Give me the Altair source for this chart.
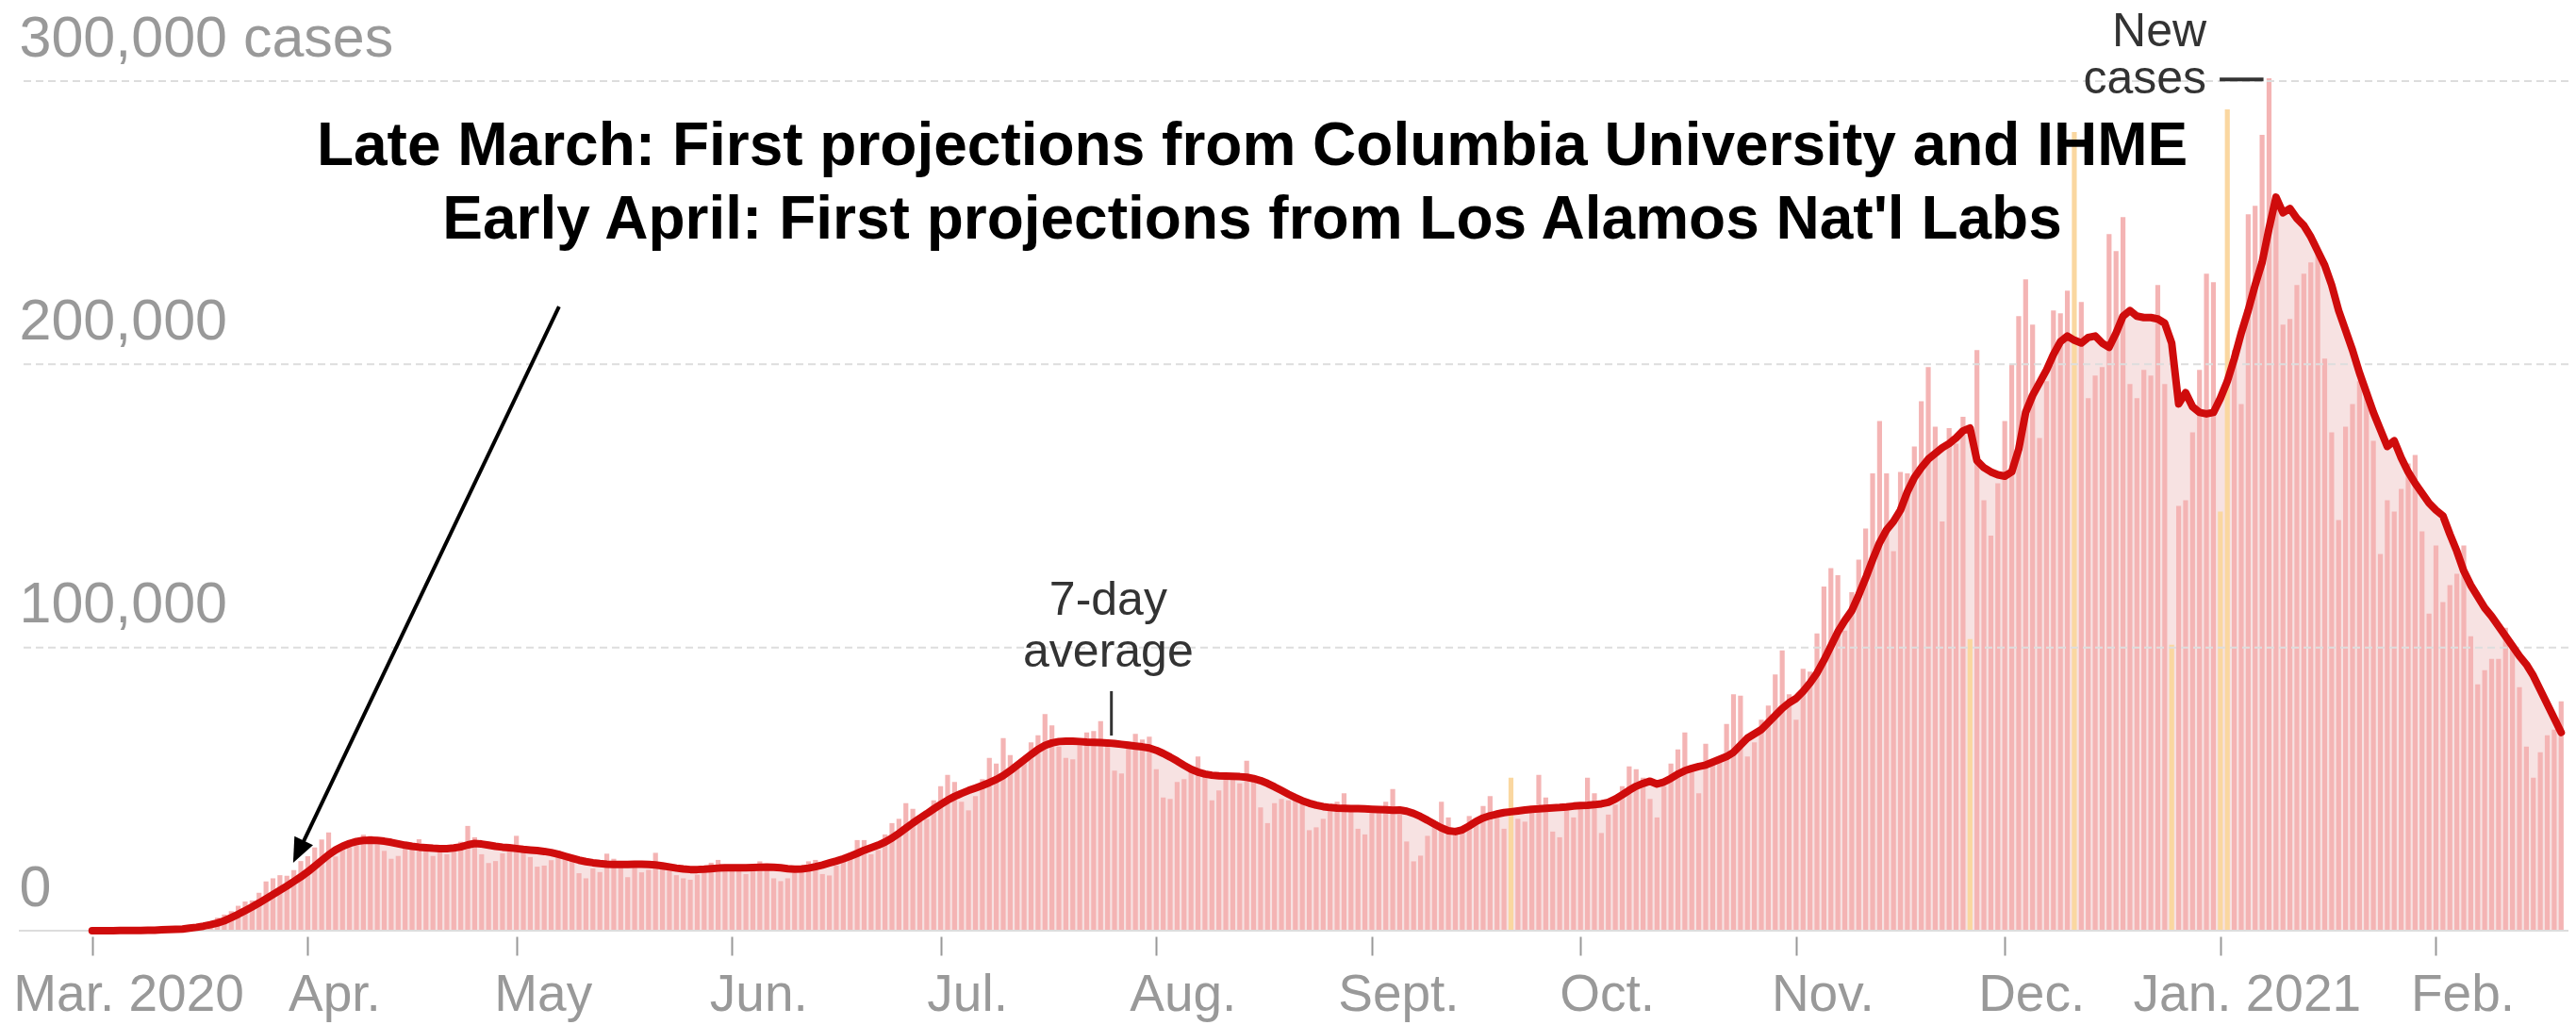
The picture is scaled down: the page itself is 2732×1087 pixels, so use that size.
import altair as alt
import pandas as pd

# ---------------- data (thousands of cases) ----------------
start = pd.Timestamp("2020-03-01")

mar_cases = [0.0, 0.0, 0.0, 0.0, 0.1, 0.1, 0.1, 0.1, 0.2, 0.3,
             0.4, 0.5, 0.7, 0.8, 1.0, 1.6, 1.9, 2.9, 4.6, 5.7,
             6.9, 8.8, 10.3, 10.7, 13.4, 17.4, 18.5, 19.6, 19.4, 21.4, 24.6]
apr_cases = [26.3, 29.4, 32.2, 34.7, 26.2, 29.6, 31.1, 32.0, 33.9, 33.5,
             30.8, 28.2, 25.4, 26.4, 29.5, 30.0, 32.3, 28.9, 26.4, 28.1,
             27.0, 29.0, 31.4, 37.0, 33.0, 27.0, 23.9, 24.6, 27.3, 29.6]
may_cases = [33.5, 28.5, 26.0, 22.6, 23.0, 24.9, 28.3, 26.8, 26.0, 20.3,
             18.5, 22.0, 20.7, 27.2, 25.4, 24.4, 18.9, 22.8, 20.6, 21.5,
             27.5, 23.4, 22.6, 19.6, 18.5, 18.0, 19.8, 22.0, 24.0, 25.0, 21.0]
jun_cases = [21.0, 21.5, 20.0, 21.5, 24.5, 22.5, 18.5, 17.5, 18.5, 20.5,
             22.0, 24.5, 25.0, 20.0, 19.5, 23.0, 25.5, 27.5, 32.0, 32.0,
             27.0, 28.5, 34.0, 38.0, 39.5, 45.0, 43.0, 40.0, 39.5, 46.0]
jul_cases = [51.0, 55.0, 52.5, 45.5, 42.5, 47.5, 53.5, 61.0, 59.0, 68.0,
             62.0, 59.0, 59.5, 66.5, 69.0, 76.5, 72.5, 65.0, 61.0, 60.5,
             66.5, 70.0, 70.5, 74.0, 66.0, 56.5, 55.5, 65.0, 69.5, 67.5, 68.5]
aug_cases = [57.0, 47.0, 46.5, 52.5, 53.5, 57.0, 61.5, 55.0, 46.0, 49.5,
             53.5, 55.0, 52.0, 60.0, 54.0, 43.5, 38.0, 45.0, 46.5, 46.0,
             48.0, 45.5, 35.5, 36.5, 39.5, 44.5, 45.5, 48.5, 43.0, 36.0, 34.0]
sep_cases = [41.5, 43.0, 45.5, 50.0, 41.0, 31.5, 24.5, 26.5, 33.5, 36.5,
             45.5, 40.0, 35.0, 35.0, 40.5, 39.0, 44.0, 47.5, 42.5, 36.0,
             54.0, 39.5, 38.5, 44.0, 55.0, 47.0, 35.0, 33.0, 42.5, 40.0]
oct_cases = [44.5, 54.0, 48.5, 34.5, 41.0, 44.5, 51.0, 58.0, 57.0, 54.0,
             46.5, 40.0, 51.0, 59.0, 64.0, 70.0, 56.5, 48.5, 66.0, 60.5,
             61.5, 73.0, 83.5, 83.0, 61.5, 66.5, 74.5, 79.5, 90.5, 99.0, 83.5]
nov_cases = [74.5, 92.5, 91.5, 105.0, 121.5, 128.0, 125.5, 106.0, 119.5, 131.0,
             142.0, 161.5, 180.0, 161.5, 134.0, 162.0, 161.5, 171.0, 187.0, 199.0,
             178.0, 144.5, 177.5, 172.0, 181.5, 103.0, 205.0, 152.0, 139.5, 158.0]
dec_cases = [180.0, 200.0, 217.0, 230.0, 214.0, 174.0, 194.0, 219.0, 218.0, 226.0,
             282.0, 222.0, 188.0, 196.0, 199.0, 246.0, 240.0, 252.0, 193.0, 188.0,
             198.0, 196.0, 228.0, 193.0, 101.0, 150.0, 152.0, 176.0, 198.0, 232.0, 229.0]
jan_cases = [148.0, 290.0, 205.0, 186.0, 253.0, 256.0, 281.0, 301.0, 258.0, 214.0,
             216.0, 228.0, 232.0, 236.0, 240.0, 202.0, 176.0, 145.0, 178.0, 186.0,
             194.0, 191.0, 173.0, 133.0, 152.0, 148.0, 156.0, 165.0, 168.0, 141.0, 112.0]
feb_cases = [136.0, 116.0, 122.0, 126.0, 136.0, 104.0, 87.0, 92.0, 96.0, 96.0,
             107.0, 100.0, 86.0, 65.0, 54.0, 63.0, 69.0, 71.0, 81.0]

mar_avg = [0.0, 0.0, 0.0, 0.0, 0.1, 0.1, 0.1, 0.1, 0.2, 0.2,
           0.3, 0.4, 0.5, 0.6, 0.9, 1.2, 1.6, 2.1, 2.7, 3.5,
           4.6, 5.8, 7.1, 8.4, 9.8, 11.3, 12.8, 14.3, 15.8, 17.4, 19.0]
apr_avg = [20.8, 22.8, 24.8, 26.8, 28.5, 29.8, 30.8, 31.5, 31.9, 32.0,
           31.9, 31.6, 31.2, 30.7, 30.2, 29.8, 29.5, 29.3, 29.1, 29.0,
           29.0, 29.2, 29.6, 30.3, 30.8, 30.6, 30.2, 29.8, 29.5, 29.3]
may_avg = [29.0, 28.7, 28.5, 28.3, 28.0, 27.6, 27.0, 26.3, 25.6, 24.9,
           24.4, 24.0, 23.7, 23.5, 23.4, 23.4, 23.4, 23.5, 23.5, 23.4,
           23.2, 22.9, 22.5, 22.1, 21.8, 21.6, 21.6, 21.7, 21.9, 22.1, 22.2]
jun_avg = [22.2, 22.2, 22.2, 22.3, 22.4, 22.5, 22.4, 22.2, 21.9, 21.7,
           21.8, 22.1, 22.6, 23.2, 23.9, 24.6, 25.4, 26.3, 27.3, 28.4,
           29.3, 30.2, 31.3, 32.7, 34.4, 36.2, 38.0, 39.7, 41.3, 43.0]
jul_avg = [44.6, 46.1, 47.4, 48.5, 49.5, 50.4, 51.3, 52.3, 53.4, 54.8,
           56.5, 58.4, 60.3, 62.2, 64.0, 65.4, 66.3, 66.8, 66.9, 66.9,
           66.8, 66.6, 66.5, 66.4, 66.3, 66.1, 65.8, 65.5, 65.2, 64.9, 64.5]
aug_avg = [63.7, 62.6, 61.3, 59.9, 58.4, 57.0, 56.0, 55.3, 54.9, 54.7,
           54.6, 54.5, 54.4, 54.2, 53.7, 53.0, 52.0, 50.8, 49.5, 48.2,
           47.0, 45.9, 45.0, 44.3, 43.8, 43.5, 43.3, 43.2, 43.1, 43.1, 43.0]
sep_avg = [42.9, 42.8, 42.7, 42.5, 42.6, 42.2, 41.4, 40.3, 39.0, 37.6,
           36.3, 35.3, 35.0, 35.6, 37.0, 38.6, 39.8, 40.6, 41.2, 41.7,
           42.0, 42.3, 42.6, 42.9, 43.0, 43.2, 43.4, 43.5, 43.7, 44.0]
oct_avg = [44.2, 44.3, 44.5, 44.8, 45.3, 46.5, 48.0, 49.6, 51.0, 52.0,
           52.8, 51.8, 52.5, 53.8, 55.3, 56.5, 57.3, 58.0, 58.5, 59.5,
           60.5, 61.5, 63.0, 65.5, 68.0, 69.5, 71.0, 73.5, 76.0, 78.5, 80.5]
nov_avg = [82.0, 84.5, 87.5, 91.0, 95.5, 100.5, 105.5, 109.5, 113.0, 118.5,
           124.5, 131.0, 137.0, 141.5, 144.5, 148.5, 155.0, 160.0, 163.5, 166.5,
           168.5, 170.5, 172.0, 174.0, 176.5, 177.5, 166.0, 163.5, 162.0, 161.0]
dec_avg = [160.5, 162.0, 170.0, 183.0, 189.0, 193.5, 198.0, 203.5, 208.0, 210.0,
           208.5, 207.5, 209.5, 210.0, 207.5, 206.0, 211.0, 217.0, 219.0, 217.0,
           216.5, 216.5, 216.0, 214.5, 207.5, 186.0, 190.0, 185.0, 183.0, 182.5, 183.0]
jan_avg = [188.0, 194.0, 202.0, 211.0, 219.0, 228.0, 236.0, 248.0, 259.0, 253.5,
           255.0, 251.5, 249.0, 245.0, 240.0, 235.0, 228.0, 219.0, 212.0, 205.0,
           197.0, 190.0, 183.0, 177.0, 171.0, 173.0, 167.0, 162.0, 158.0, 154.5, 151.0]
feb_avg = [148.5, 146.5, 140.0, 134.0, 127.0, 122.0, 118.0, 114.0, 111.0, 107.5,
           104.0, 100.5, 97.0, 94.0, 90.0, 85.0, 80.0, 75.0, 70.0]

# days flagged (data dumps) drawn in yellow
flag_dates = ["2020-09-21", "2020-11-26", "2020-12-11", "2020-12-25",
              "2021-01-01", "2021-01-02"]

# axis ticks / labels
month_starts = ["2020-03-01", "2020-04-01", "2020-05-01", "2020-06-01",
                "2020-07-01", "2020-08-01", "2020-09-01", "2020-10-01",
                "2020-11-01", "2020-12-01", "2021-01-01", "2021-02-01"]
month_labels = ["Mar. 2020", "Apr.", "May", "Jun.", "Jul.", "Aug.", "Sept.",
                "Oct.", "Nov.", "Dec.", "Jan. 2021", "Feb."]
y_ticks = [0, 100000, 200000, 300000]
y_labels = ["0", "100,000", "200,000", "300,000 cases"]

# annotations (in data units: day index since Mar 1 2020, cases)
title_lines = ["Late March: First projections from Columbia University and IHME",
               "Early April: First projections from Los Alamos Nat'l Labs"]
title_day = [166.8, 166.8]
title_val = [270400, 244400]

avg_label = ["7-day", "average"]
avg_label_day = [146.1, 146.1]
avg_label_val = [111500, 93200]
avg_pointer = {"day": [146.55], "v1": [84600], "v2": [68900]}

new_label = ["New", "cases"]
new_label_day = [304.0, 304.0]
new_label_val = [312300, 295700]
new_pointer = {"d1": [305.9], "d2": [312.2], "v": [300600]}

arrow_tail = (67.13, 220400)
arrow_tip = (28.9, 24000)
arrow_shaft_end = (30.2, 30500)

# ---------------- build tables ----------------
cases_k = (mar_cases + apr_cases + may_cases + jun_cases + jul_cases + aug_cases +
           sep_cases + oct_cases + nov_cases + dec_cases + jan_cases + feb_cases)
avg_k = (mar_avg + apr_avg + may_avg + jun_avg + jul_avg + aug_avg +
         sep_avg + oct_avg + nov_avg + dec_avg + jan_avg + feb_avg)
assert len(cases_k) == len(avg_k) == 356, (len(cases_k), len(avg_k))

flag_idx = {(pd.Timestamp(d) - start).days for d in flag_dates}
df = pd.DataFrame({
    "day": list(range(len(cases_k))),
    "cases": [v * 1000 for v in cases_k],
    "avg": [v * 1000 for v in avg_k],
    "kind": ["flag" if i in flag_idx else "normal" for i in range(len(cases_k))],
})

tick_days = [(pd.Timestamp(d) - start).days for d in month_starts]


def label_expr(values, labels):
    expr = "''"
    for v, lab in reversed(list(zip(values, labels))):
        expr = f"datum.value == {v} ? '{lab}' : ({expr})"
    return expr


FONT = "Liberation Sans"
GREY = "#999999"

xscale = alt.Scale(domain=[-9.86, 355.37], nice=False, zero=False)
yscale = alt.Scale(domain=[0, 300000], nice=False, zero=True)

x_axis = alt.Axis(values=tick_days, labelExpr=label_expr(tick_days, month_labels),
                  title=None, domain=False,
                  ticks=True, tickSize=20, tickWidth=2, tickColor=GREY, offset=6,
                  labelPadding=58, labelBaseline="alphabetic",
                  labelOffset=28, labelFlush=80, labelFlushOffset=112,
                  labelFontSize=55, labelColor=GREY, labelFont=FONT, labelLimit=1000,
                  labelOverlap=False, grid=False)
y_axis = alt.Axis(values=y_ticks, labelExpr=label_expr(y_ticks, y_labels),
                  title=None, domain=False, grid=False,
                  ticks=False, labelAlign="left", labelBaseline="alphabetic",
                  labelPadding=0, labelOffset=-27, labelFontSize=61, labelColor=GREY,
                  labelFont=FONT, labelLimit=1000, labelOverlap=False, labelFlush=False)


def X(field):
    return alt.X(field, scale=xscale, axis=x_axis, title=None)


def Y(field):
    return alt.Y(field, scale=yscale, axis=y_axis, title=None)


base = alt.Chart(df)

area = base.mark_area(color="#f7e2e2").encode(x=X("day:Q"), y=Y("avg:Q"))
bars = base.mark_bar(width=5.2).encode(
    x=X("day:Q"), y=Y("cases:Q"),
    color=alt.Color("kind:N", scale=alt.Scale(domain=["normal", "flag"],
                                              range=["#f4b4b4", "#fad7a0"]), legend=None),
)

# gridlines (drawn over the bars, like the original)
grid_dashed = alt.Chart(pd.DataFrame({"v": y_ticks[1:]})).mark_rule(
    color="#dddddd", strokeWidth=2, strokeDash=[8, 5]).encode(y=Y("v:Q"))
grid_zero = alt.Chart(pd.DataFrame({"v": y_ticks[:1]})).mark_rule(
    color="#dddddd", strokeWidth=2).encode(y=Y("v:Q"))

line = base.mark_line(color="#cf0c0c", strokeWidth=8, strokeJoin="round",
                      strokeCap="round").encode(x=X("day:Q"), y=Y("avg:Q"))

title_df = pd.DataFrame({"text": title_lines, "day": title_day, "val": title_val})
title_text = alt.Chart(title_df).mark_text(font=FONT, fontSize=64, fontWeight="bold",
                                           color="#000000", align="center",
                                           baseline="alphabetic").encode(
    x=X("day:Q"), y=Y("val:Q"), text="text:N")

avg_df = pd.DataFrame({"text": avg_label, "day": avg_label_day, "val": avg_label_val})
avg_text = alt.Chart(avg_df).mark_text(font=FONT, fontSize=50, color="#333333",
                                       align="center", baseline="alphabetic").encode(
    x=X("day:Q"), y=Y("val:Q"), text="text:N")
avg_rule = alt.Chart(pd.DataFrame(avg_pointer)).mark_rule(color="#333333", strokeWidth=3).encode(
    x=X("day:Q"), y=Y("v1:Q"), y2="v2:Q")

new_df = pd.DataFrame({"text": new_label, "day": new_label_day, "val": new_label_val})
new_text = alt.Chart(new_df).mark_text(font=FONT, fontSize=50, color="#333333",
                                       align="right", baseline="alphabetic").encode(
    x=X("day:Q"), y=Y("val:Q"), text="text:N")
new_rule = alt.Chart(pd.DataFrame(new_pointer)).mark_rule(color="#333333", strokeWidth=4).encode(
    x=X("d1:Q"), x2="d2:Q", y=Y("v:Q"))

shaft_df = pd.DataFrame({"d1": [arrow_tail[0]], "v1": [arrow_tail[1]],
                         "d2": [arrow_shaft_end[0]], "v2": [arrow_shaft_end[1]]})
shaft = alt.Chart(shaft_df).mark_rule(color="#000000", strokeWidth=4).encode(
    x=X("d1:Q"), y=Y("v1:Q"), x2="d2:Q", y2="v2:Q")
head_df = pd.DataFrame({"day": [arrow_tip[0]], "val": [arrow_tip[1]]})
head = alt.Chart(head_df).mark_point(shape="M0,0L-0.42,-1L0.42,-1Z", size=2704, angle=25.6,
                                     filled=True, color="#000000", opacity=1,
                                     strokeWidth=0).encode(x=X("day:Q"), y=Y("val:Q"))

chart = alt.layer(area, bars, grid_dashed, grid_zero, line, avg_rule, avg_text,
                  new_rule, new_text, shaft, head, title_text).properties(
    width=2704, height=901,
    padding={"left": 12, "top": 78, "right": 0, "bottom": 98},
    autosize=alt.AutoSizeParams(type="none", contains="content"),
    background="#ffffff",
).configure_view(stroke=None)

chart.save("out.html", embed_options={"renderer": "svg", "actions": False})
